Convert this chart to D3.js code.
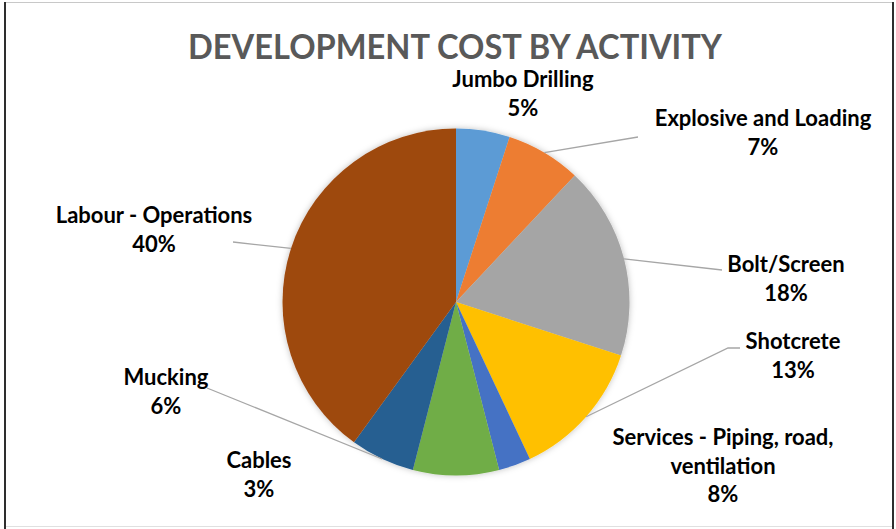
<!DOCTYPE html>
<html>
<head>
<meta charset="utf-8">
<script src="https://cdn.jsdelivr.net/npm/d3@7"></script>
<style>
  html, body { margin: 0; padding: 0; background: #fff; }
  svg { display: block; }
</style>
</head>
<body>
<svg id="chart" width="896" height="529"></svg>
<script>
// ---- data ----
const title = "DEVELOPMENT COST BY ACTIVITY";
const categories = [
  "Jumbo Drilling",
  "Explosive and Loading",
  "Bolt/Screen",
  "Shotcrete",
  "Cables",
  "Services - Piping, road, ventilation",
  "Mucking",
  "Labour - Operations"
];
const values = [5, 7, 18, 13, 3, 8, 6, 40];
const colors = ["#5B9BD5", "#ED7D31", "#A5A5A5", "#FFC000", "#4472C4", "#70AD47", "#255E91", "#9E480E"];
// label text lines (category wrapped as in original)
const labelLines = [
  ["Jumbo Drilling"],
  ["Explosive and Loading"],
  ["Bolt/Screen"],
  ["Shotcrete"],
  ["Cables"],
  ["Services - Piping, road,", "ventilation"],
  ["Mucking"],
  ["Labour - Operations"]
];

// ---- layout (positions for labels; not data) ----
const W = 896, H = 529;
const cx = 456, cy = 302, R = 173.5;
const labelPos = [
  { x: 523, y: 87 },
  { x: 763, y: 126 },
  { x: 786, y: 272 },
  { x: 793, y: 349 },
  { x: 259, y: 468 },
  { x: 723, y: 445 },
  { x: 166, y: 385 },
  { x: 154, y: 223 }
];
// leader line end points (label side), null = no leader
const leaderEnds = [
  null,
  [[638, 137]],
  [[722, 270]],
  [[728, 348], [740, 348]],
  null,
  null,
  [[207, 388]],
  [[233, 242]]
];
const lineH = 28.5;

const svg = d3.select("#chart");

// border
svg.append("line").attr("x1", 4).attr("x2", 893).attr("y1", 2.5).attr("y2", 2.5)
  .attr("stroke", "#c8c8c8").attr("stroke-width", 1);
svg.append("line").attr("x1", 4).attr("x2", 893).attr("y1", 526.5).attr("y2", 526.5)
  .attr("stroke", "#e0e0e0").attr("stroke-width", 1);
svg.append("line").attr("x1", 5).attr("x2", 5).attr("y1", 2).attr("y2", H)
  .attr("stroke", "#2e2e2e").attr("stroke-width", 2);
svg.append("line").attr("x1", 893).attr("x2", 893).attr("y1", 2).attr("y2", H)
  .attr("stroke", "#2e2e2e").attr("stroke-width", 2);

// shadow filter
const defs = svg.append("defs");
const f = defs.append("filter").attr("id", "shadow")
  .attr("x", "-20%").attr("y", "-20%").attr("width", "140%").attr("height", "140%");
f.append("feDropShadow").attr("dx", 0).attr("dy", 0).attr("stdDeviation", 3)
  .attr("flood-color", "#000").attr("flood-opacity", 0.25);

// title
svg.append("text")
  .attr("x", 455).attr("y", 59)
  .attr("text-anchor", "middle")
  .attr("font-family", "Lato, 'Open Sans', sans-serif")
  .attr("font-weight", "bold")
  .attr("font-size", 35)
  .attr("fill", "#595959")
  .attr("textLength", 534)
  .attr("lengthAdjust", "spacingAndGlyphs")
  .text(title);

// pie
const data = categories.map((c, i) => ({ name: c, value: values[i], color: colors[i], i }));
const pie = d3.pie().value(d => d.value).sort(null).startAngle(0).endAngle(2 * Math.PI);
const arcs = pie(data);
const arc = d3.arc().innerRadius(0).outerRadius(R);

const g = svg.append("g").attr("transform", `translate(${cx},${cy})`);
g.append("g").attr("filter", "url(#shadow)")
  .selectAll("path").data(arcs).join("path")
  .attr("d", arc)
  .attr("fill", d => d.data.color);

// leader lines
const outer = d3.arc().innerRadius(R).outerRadius(R);
arcs.forEach((a, i) => {
  const ends = leaderEnds[i];
  if (!ends) return;
  const [px, py] = outer.centroid(a);
  const pts = [[cx + px, cy + py], ...ends];
  svg.append("path")
    .attr("d", d3.line()(pts))
    .attr("fill", "none")
    .attr("stroke", "#a6a6a6")
    .attr("stroke-width", 1.3);
});

// labels
const fmt = d3.format(".0%");
arcs.forEach((a, i) => {
  const lines = [...labelLines[i], fmt(values[i] / d3.sum(values))];
  const t = svg.append("text")
    .attr("text-anchor", "middle")
    .attr("font-family", "Lato, 'Open Sans', sans-serif")
    .attr("font-weight", "bold")
    .attr("font-size", 22)
    .attr("fill", "#000");
  lines.forEach((ln, k) => {
    t.append("tspan").attr("x", labelPos[i].x).attr("y", labelPos[i].y + k * lineH).text(ln);
  });
});
</script>
</body>
</html>
